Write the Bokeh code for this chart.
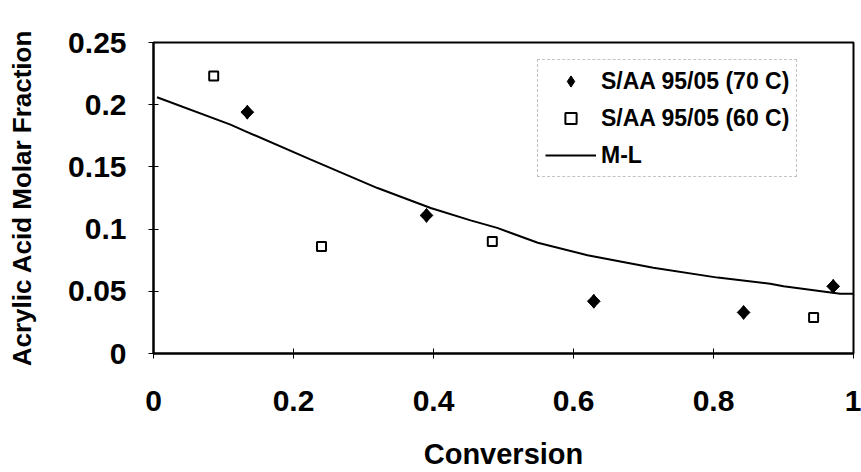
import math
from bokeh.plotting import figure
from bokeh.models import Legend, LegendItem, FixedTicker, Range1d
from bokeh.embed import file_html
from bokeh.resources import INLINE

# --- data ---
conv_70 = [0.134, 0.390, 0.629, 0.843, 0.971]
aa_70 = [0.194, 0.111, 0.042, 0.033, 0.054]

conv_60 = [0.086, 0.240, 0.484, 0.943]
aa_60 = [0.223, 0.086, 0.090, 0.029]

ml_x = [0.005, 0.11, 0.13, 0.224, 0.32, 0.396, 0.453, 0.491, 0.549, 0.62, 0.714, 0.806, 0.881, 0.90, 0.981, 1.0]
ml_y = [0.206, 0.184, 0.179, 0.156, 0.133, 0.117, 0.107, 0.101, 0.089, 0.079, 0.069, 0.061, 0.056, 0.054, 0.048, 0.048]

x_ticks = [0, 0.2, 0.4, 0.6, 0.8, 1]
x_tick_labels = ["0", "0.2", "0.4", "0.6", "0.8", "1"]
y_ticks = [0, 0.05, 0.1, 0.15, 0.2, 0.25]
y_tick_labels = ["0", "0.05", "0.1", "0.15", "0.2", "0.25"]

series_names = ["S/AA 95/05 (70 C)", "S/AA 95/05 (60 C)", "M-L"]
x_title = "Conversion"
y_title = "Acrylic Acid Molar Fraction"

FONT = "Liberation Sans"

p = figure(width=861, height=472, output_backend="svg", toolbar_location=None,
           x_range=Range1d(0, 1), y_range=Range1d(0, 0.25),
           min_border_left=153, min_border_top=42, min_border_right=8, min_border_bottom=119)
p.background_fill_color = "white"
p.border_fill_color = "white"
p.outline_line_color = "black"
p.outline_line_width = 2
p.xgrid.visible = False
p.ygrid.visible = False

r_line = p.line(ml_x, ml_y, line_color="black", line_width=2)
# filled diamonds: a diamond marker (used by the legend) under a 45-degree square
r70 = p.scatter(conv_70, aa_70, marker="diamond", size=14,
                fill_color="black", line_color="black", line_width=1)
p.scatter(conv_70, aa_70, marker="square", angle=math.pi / 4, size=9,
          fill_color="black", line_color="black", line_width=1)
r60 = p.scatter(conv_60, aa_60, marker="square", size=9,
                fill_color="white", line_color="black", line_width=2)

for ax, ticks, labels in ((p.xaxis[0], x_ticks, x_tick_labels), (p.yaxis[0], y_ticks, y_tick_labels)):
    ax.ticker = FixedTicker(ticks=ticks)
    ax.major_label_overrides = {t: l for t, l in zip(ticks, labels)}
    ax.minor_tick_line_color = None
    ax.major_tick_in = 5
    ax.major_tick_out = 5
    ax.major_tick_line_color = "black"
    ax.major_tick_line_width = 1
    ax.axis_line_color = "black"
    ax.axis_line_width = 2
    ax.major_label_text_font = FONT
    ax.major_label_text_font_style = "bold"
    ax.major_label_text_font_size = "30px"
    ax.major_label_text_color = "black"
    ax.axis_label_text_font = FONT
    ax.axis_label_text_font_style = "bold"
    ax.axis_label_text_color = "black"

p.xaxis.axis_label = x_title
p.xaxis.axis_label_text_font_size = "29px"
p.xaxis.major_label_standoff = 32
p.xaxis.axis_label_standoff = 24

p.yaxis.axis_label = y_title
p.yaxis.axis_label_text_font_size = "26px"
p.yaxis.major_label_standoff = 22
p.yaxis.axis_label_standoff = 28

legend = Legend(items=[
    LegendItem(label=series_names[0], renderers=[r70]),
    LegendItem(label=series_names[1], renderers=[r60]),
    LegendItem(label=series_names[2], renderers=[r_line]),
], location=(384, 176))
legend.label_text_font = FONT
legend.label_text_font_style = "bold"
legend.label_text_font_size = "23px"
legend.label_text_color = "black"
legend.glyph_width = 51
legend.glyph_height = 28
legend.label_height = 28
legend.label_standoff = 5
legend.spacing = 9
legend.padding = 7
legend.margin = 0
legend.border_line_color = "#888888"
legend.border_line_dash = "1 3"
legend.border_line_width = 1
legend.background_fill_alpha = 0
p.add_layout(legend)

open("out.html", "w").write(file_html(p, INLINE))
